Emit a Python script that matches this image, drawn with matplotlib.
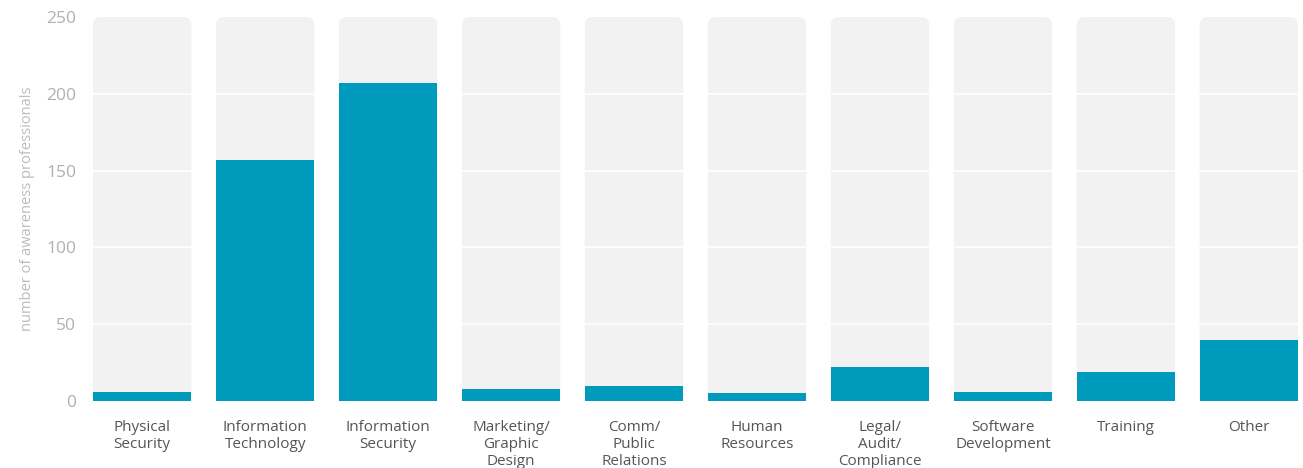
import numpy as np
import matplotlib.pyplot as plt
from matplotlib.patches import FancyBboxPatch

plt.rcParams['font.family'] = ['Open Sans', 'DejaVu Sans']

roles = ['Physical\nSecurity', 'Information\nTechnology', 'Information\nSecurity',
         'Marketing/\nGraphic\nDesign', 'Comm/\nPublic\nRelations', 'Human\nResources',
         'Legal/\nAudit/\nCompliance', 'Software\nDevelopment', 'Training', 'Other']
counts = [6, 157, 207, 8, 10, 5, 22, 6, 19, 40]
ymax = 250

blue = '#009abd'
track = '#f2f2f2'

fig = plt.figure(figsize=(13.03, 4.68), dpi=100)
ax = fig.add_axes([93 / 1303, 67 / 468, 1205 / 1303, 384 / 468])

x = np.arange(len(roles))
w = 0.8
ax.set_xlim(-0.4, len(roles) - 0.6)
ax.set_ylim(0, ymax)

# grey tracks with rounded tops (bottom pushed below 0 so only the top is rounded)
rx = 0.065
ry = 5.3
for xi in x:
    box = FancyBboxPatch((xi - w / 2, -20), w, ymax + 20,
                         boxstyle='round,pad=0,rounding_size=%f' % rx,
                         mutation_aspect=ry / rx,
                         facecolor=track, edgecolor='none', zorder=1)
    ax.add_patch(box)

# white gridlines between the tracks and the blue bars
for yv in range(50, ymax, 50):
    ax.axhline(yv, color='white', lw=1.2, zorder=2)

ax.bar(x, counts, width=w, color=blue, zorder=3)

ax.set_xticks(x)
ax.set_xticklabels(roles, fontsize=11, color='#555555', linespacing=1.15, va='top')
ax.set_yticks(range(0, ymax + 1, 50))
ax.tick_params(axis='y', labelsize=12.5, labelcolor='#b0b0b0', length=0, pad=12)
ax.tick_params(axis='x', length=0, pad=14)
ax.set_ylabel('number of awareness professionals', fontsize=10.5, color='#bbbbbb', labelpad=8)

for s in ax.spines.values():
    s.set_visible(False)

fig.savefig('out.png', dpi=100)
